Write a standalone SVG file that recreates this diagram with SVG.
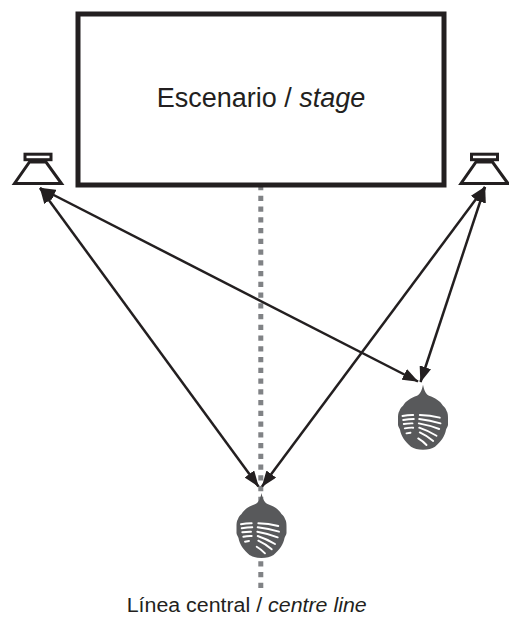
<svg xmlns="http://www.w3.org/2000/svg" width="509" height="617" viewBox="0 0 509 617">
  <style>
    .label { font-family: "Liberation Sans", Arial, sans-serif; fill: #231f20; }
    .it { font-style: italic; }
    .link { fill: none; stroke: #231f20; stroke-width: 2.5; marker-start: url(#tip); marker-end: url(#tip); }
    .hair { fill: none; stroke: #ffffff; stroke-width: 1.9; stroke-linecap: round; }
  </style>
  <defs>
    <marker id="tip" viewBox="0 0 16 12" refX="15.5" refY="6" markerWidth="16" markerHeight="12" markerUnits="userSpaceOnUse" orient="auto-start-reverse">
      <path d="M0,0 L16,6 L0,12 Z" fill="#231f20"/>
    </marker>
    <!-- loudspeaker: small cap on a trapezoid horn -->
    <g id="speaker">
      <rect x="-13" y="154.2" width="26" height="5.5" fill="#fff" stroke="#231f20" stroke-width="3"/>
      <polygon points="-8.5,162 8,162 23.5,183.5 -23.5,183.5" fill="#fff" stroke="#231f20" stroke-width="3"/>
    </g>
    <!-- listener head seen from above, nose pointing up -->
    <g id="head">
      <path d="M0,-32 C1,-27 2.5,-23 6,-21 C12,-19 17,-16 20,-11 C22,-9 23,-8 23.5,-6 C25,-4 25,-1 25,2 L25,8 C25,10 23.5,11 23,13 C22,19 18,25 12,30 C9,32 5,33 0,33 C-5,33 -9,32 -12,30 C-18,25 -22,19 -23,13 C-23.5,11 -25,10 -25,8 L-25,2 C-25,-1 -25,-4 -23.5,-6 C-23,-8 -22,-9 -20,-11 C-17,-16 -12,-19 -6,-21 C-2.5,-23 -1,-27 0,-32 Z" fill="#58595b"/>
      <path class="hair" d="M-20.5,-0.7 Q-15,-1.8 -9.8,-1.7 M-19.8,3.3 Q-14,2.4 -9.2,2.3 M-19.2,7.3 Q-15,6.6 -10.5,6.7 M-18.2,11.7 Q-14,10.8 -9.8,11 M-16.5,16.7 L-12.5,16"/>
      <path class="hair" d="M-3.2,-1.7 Q7,-1.5 16.8,1 M-3.8,2.3 Q7,3.5 17.5,6.7 M-4.2,6.7 Q6,8.5 16.2,12.3 M-3.8,11 Q5,14 13.5,19 M-3.2,15.7 Q4,19 10.2,24.3 M-4.8,21.7 Q0,24.5 3.5,28.3"/>
    </g>
  </defs>

  <!-- centre line -->
  <line x1="260.8" y1="185" x2="260.8" y2="588" stroke="#808285" stroke-width="5" stroke-dasharray="5.25 5.5"/>

  <g id="stage">
    <rect x="78" y="14" width="366" height="171" fill="#fff" stroke="#231f20" stroke-width="5"/>
    <text class="label" x="261" y="106.7" font-size="27" text-anchor="middle">Escenario / <tspan class="it">stage</tspan></text>
  </g>

  <g id="speaker-left">
    <use href="#speaker" x="38" y="0"/>
  </g>
  <g id="speaker-right">
    <use href="#speaker" x="484.5" y="0"/>
  </g>

  <g id="listener-centre">
    <use href="#head" x="261.5" y="525"/>
  </g>
  <g id="listener-right">
    <use href="#head" x="423" y="416.7"/>
  </g>

  <g id="connectors">
    <line class="link" x1="40" y1="188" x2="258.5" y2="486.5"/>
    <line class="link" x1="40" y1="188" x2="418" y2="381.5"/>
    <line class="link" x1="485" y1="187" x2="262" y2="486.5"/>
    <line class="link" x1="485" y1="187" x2="420.5" y2="382"/>
  </g>

  <text id="centre-line-label" class="label" x="126.7" y="612.3" font-size="19.5" textLength="240" lengthAdjust="spacingAndGlyphs">Línea central / <tspan class="it">centre line</tspan></text>
</svg>
